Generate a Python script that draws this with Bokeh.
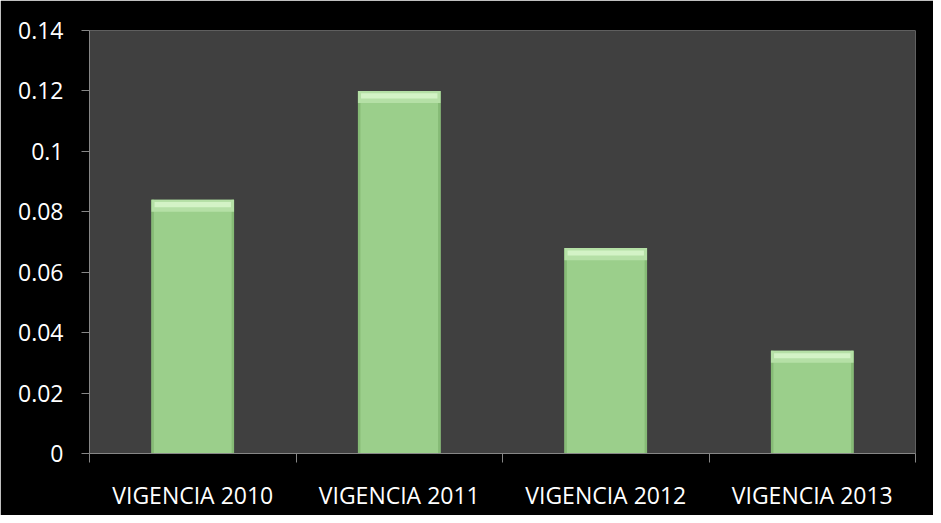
from bokeh.plotting import figure
from bokeh.models import FixedTicker, LinearAxis, Range1d
from bokeh.embed import file_html
from bokeh.resources import INLINE

categories = ["VIGENCIA 2010", "VIGENCIA 2011", "VIGENCIA 2012", "VIGENCIA 2013"]
values = [0.084, 0.120, 0.068, 0.034]
y_ticks = [0, 0.02, 0.04, 0.06, 0.08, 0.10, 0.12, 0.14]
y_tick_labels = ["0", "0.02", "0.04", "0.06", "0.08", "0.1", "0.12", "0.14"]

FONT = "Open Sans"
FS = "23px"

xs = [i + 0.5 for i in range(len(categories))]
bw = 0.40

p = figure(width=933, height=515, output_backend="svg", toolbar_location=None,
           x_range=Range1d(0, len(categories)), y_range=Range1d(0, 0.14),
           x_axis_location=None, min_border_left=89, min_border_right=18,
           min_border_top=30, min_border_bottom=62)
p.border_fill_color = "black"
p.background_fill_color = "#404040"
p.outline_line_color = None
p.grid.visible = False

# bars with a simple bevel look
p.vbar(x=xs, width=bw, top=values, bottom=0, fill_color="#9bcf8b", line_color=None)
p.vbar(x=[x - bw / 2 + 0.006 for x in xs], width=0.012, top=values, bottom=0,
       fill_color="#86bb76", line_color=None)
p.vbar(x=[x + bw / 2 - 0.006 for x in xs], width=0.012, top=values, bottom=0,
       fill_color="#86bb76", line_color=None)
p.vbar(x=xs, width=bw, top=values, bottom=[v - 0.004 for v in values],
       fill_color="#b5e0a6", line_color=None)
p.vbar(x=xs, width=bw - 0.03, top=[v - 0.0008 for v in values],
       bottom=[v - 0.0025 for v in values], fill_color="#d3f3c6", line_color=None)

ya = p.yaxis[0]
ya.ticker = FixedTicker(ticks=y_ticks)
ya.major_label_overrides = {t: l for t, l in zip(y_ticks, y_tick_labels)}
ya.axis_line_color = "#868686"
ya.major_tick_line_color = "#868686"
ya.major_tick_in = 0
ya.major_tick_out = 8
ya.minor_tick_line_color = None
ya.major_label_text_color = "white"
ya.major_label_text_font = FONT
ya.major_label_text_font_size = FS
ya.major_label_standoff = 18

xt = LinearAxis(ticker=FixedTicker(ticks=list(range(len(categories) + 1))))
xt.axis_line_color = "#868686"
xt.major_tick_line_color = "#868686"
xt.major_tick_in = 0
xt.major_tick_out = 9
xt.minor_tick_line_color = None
xt.major_label_text_font_size = "0px"
xt.major_label_standoff = 0
xt.major_label_overrides = {i: "" for i in range(len(categories) + 1)}
p.add_layout(xt, "below")

xl = LinearAxis(ticker=FixedTicker(ticks=xs))
xl.major_label_overrides = {x: c for x, c in zip(xs, categories)}
xl.axis_line_color = None
xl.major_tick_line_color = None
xl.minor_tick_line_color = None
xl.major_label_text_color = "white"
xl.major_label_text_font = FONT
xl.major_label_text_font_size = FS
xl.major_label_standoff = 10
p.add_layout(xl, "below")

open("out.html", "w").write(file_html(p, INLINE))
